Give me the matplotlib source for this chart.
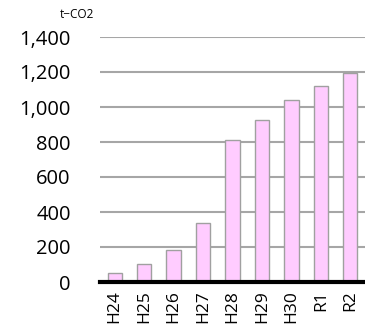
import matplotlib.pyplot as plt

years = ['H24', 'H25', 'H26', 'H27', 'H28', 'H29', 'H30', 'R1', 'R2']
co2 = [54, 105, 185, 337, 813, 924, 1038, 1122, 1196]
yticks = [0, 200, 400, 600, 800, 1000, 1200, 1400]

plt.rcParams['font.family'] = ['Open Sans', 'DejaVu Sans']

fig = plt.figure(figsize=(3.65, 3.29), dpi=100)
ax = fig.add_axes([100/365, 1 - 282/329, 265/365, 245/329])

ax.bar(range(len(years)), co2, width=0.49, color='#FFCCFF',
       edgecolor='#A0A0A0', linewidth=1.0, zorder=3)

ax.set_ylim(0, 1400)
ax.set_xlim(-0.5, len(years) - 0.5)
ax.set_yticks(yticks)
ax.set_yticklabels([f'{v:,}' for v in yticks], fontsize=14.5)
ax.set_xticks(range(len(years)))
ax.set_xticklabels(years, rotation=90, fontsize=12.5)
ax.tick_params(length=0)
ax.tick_params(axis='x', pad=6)
ax.tick_params(axis='y', pad=21)

ax.grid(axis='y', color='#A6A6A6', linewidth=1.5, zorder=0)
for s in ['top', 'right', 'left']:
    ax.spines[s].set_visible(False)
ax.spines['bottom'].set_linewidth(3)
ax.spines['bottom'].set_color('black')
ax.spines['bottom'].set_zorder(4)

fig.text(77/365, 1 - 15/329, 't\u2212CO2', fontsize=8.5, ha='center', va='center')

fig.savefig('out.png', dpi=100)
